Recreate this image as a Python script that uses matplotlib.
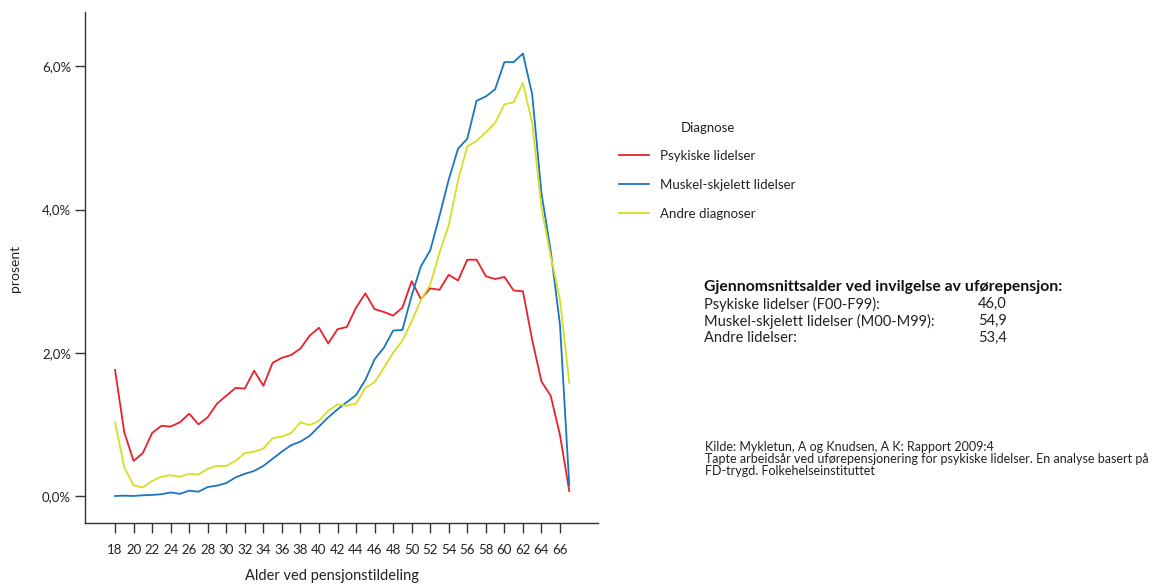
import numpy as np
import matplotlib.pyplot as plt
from matplotlib.ticker import FuncFormatter

plt.rcParams['font.family'] = ['Lato', 'DejaVu Sans']

# alder 18-67, andel (prosent)
ages = list(range(18, 68))
psykiske = [1.76, 0.89, 0.49, 0.60, 0.88, 0.98, 0.97, 1.03, 1.15, 1.00,
            1.10, 1.29, 1.40, 1.51, 1.50, 1.75, 1.54, 1.86, 1.93, 1.97,
            2.06, 2.24, 2.35, 2.13, 2.33, 2.36, 2.63, 2.83, 2.61, 2.57,
            2.52, 2.63, 3.00, 2.75, 2.90, 2.88, 3.09, 3.01, 3.30, 3.30,
            3.07, 3.03, 3.06, 2.87, 2.86, 2.18, 1.60, 1.40, 0.85, 0.07]
muskel = [0.00, 0.005, 0.00, 0.01, 0.015, 0.025, 0.05, 0.03, 0.075, 0.06,
          0.125, 0.145, 0.18, 0.26, 0.31, 0.35, 0.42, 0.52, 0.62, 0.71,
          0.76, 0.84, 0.97, 1.10, 1.21, 1.31, 1.41, 1.62, 1.91, 2.07,
          2.31, 2.32, 2.80, 3.21, 3.43, 3.91, 4.42, 4.85, 4.99, 5.52,
          5.58, 5.68, 6.06, 6.06, 6.18, 5.61, 4.23, 3.42, 2.39, 0.15]
andre = [1.03, 0.40, 0.15, 0.12, 0.21, 0.27, 0.29, 0.27, 0.31, 0.30,
         0.38, 0.42, 0.42, 0.49, 0.60, 0.62, 0.66, 0.81, 0.83, 0.88,
         1.03, 0.99, 1.05, 1.19, 1.28, 1.26, 1.29, 1.51, 1.59, 1.79,
         2.00, 2.17, 2.44, 2.74, 2.95, 3.40, 3.78, 4.41, 4.88, 4.96,
         5.08, 5.21, 5.47, 5.50, 5.77, 5.21, 4.02, 3.35, 2.74, 1.58]

series_names = ['Psykiske lidelser', 'Muskel-skjelett lidelser', 'Andre diagnoser']
colors = ['#e8212b', '#1a76bd', '#d6de22']

avg_labels = ['Psykiske lidelser (F00-F99):', 'Muskel-skjelett lidelser (M00-M99):', 'Andre lidelser:']
avg_values = ['46,0', '54,9', '53,4']

source_lines = ['Kilde: Mykletun, A og Knudsen, A K: Rapport 2009:4',
                'Tapte arbeidsår ved uførepensjonering for psykiske lidelser. En analyse basert på',
                'FD-trygd. Folkehelseinstituttet']

W, H = 1170, 585
fig = plt.figure(figsize=(11.7, 5.85), dpi=100)
ax = fig.add_axes([85 / W, 1 - 523 / H, (598 - 85) / W, (523 - 12) / H])

for vals, name, c in zip([psykiske, muskel, andre], series_names, colors):
    ax.plot(ages, vals, color=c, lw=1.3, label=name)

ax.set_xlim(14.76, 70.1)
ax.set_ylim(-0.377, 6.76)
ax.set_xticks(range(18, 67, 2))
ax.set_yticks([0, 2, 4, 6])
ax.yaxis.set_major_formatter(FuncFormatter(lambda v, p: ('%.1f%%' % v).replace('.', ',')))

for s in ['top', 'right']:
    ax.spines[s].set_visible(False)
for s in ['left', 'bottom']:
    ax.spines[s].set_color('#333333')
    ax.spines[s].set_linewidth(1.0)
ax.tick_params(axis='both', direction='out', length=7, width=1, color='#333333',
               labelsize=9.5, labelcolor='#222222')
ax.tick_params(axis='x', pad=8)
ax.tick_params(axis='y', pad=3)

# aksetitler som fri tekst
fig.text(15 / W, 1 - 268 / H, 'prosent', rotation=90, fontsize=10,
         ha='center', va='center', color='#222222')
fig.text(332 / W, 1 - 576 / H, 'Alder ved pensjonstildeling', fontsize=10.5,
         ha='center', va='center', color='#222222')

fig.text(708 / W, 1 - 128 / H, 'Diagnose', fontsize=9.5, ha='center', va='center',
         color='#222222')
leg = ax.legend(loc='upper left', bbox_to_anchor=(612 / W, 1 - 143 / H),
                bbox_transform=fig.transFigure, frameon=False, fontsize=9.5,
                handlelength=2.3, handletextpad=0.8, labelspacing=1.3, borderpad=0)
for t in leg.get_texts():
    t.set_color('#222222')

fig.text(704 / W, 1 - 287 / H, 'Gjennomsnittsalder ved invilgelse av uførepensjon:',
         fontsize=11.3, fontweight='bold', va='center', color='#111111')
for i, (lab, val) in enumerate(zip(avg_labels, avg_values)):
    y = 1 - (304 + 17 * i) / H
    fig.text(704 / W, y, lab, fontsize=10.5, va='center', color='#222222')
    fig.text(978 / W, y, val, fontsize=10.5, va='center', color='#222222')

for i, line in enumerate(source_lines):
    fig.text(705 / W, 1 - (447 + 12 * i) / H, line, fontsize=9, va='center',
             color='#222222')

fig.savefig('out.png', dpi=100)
